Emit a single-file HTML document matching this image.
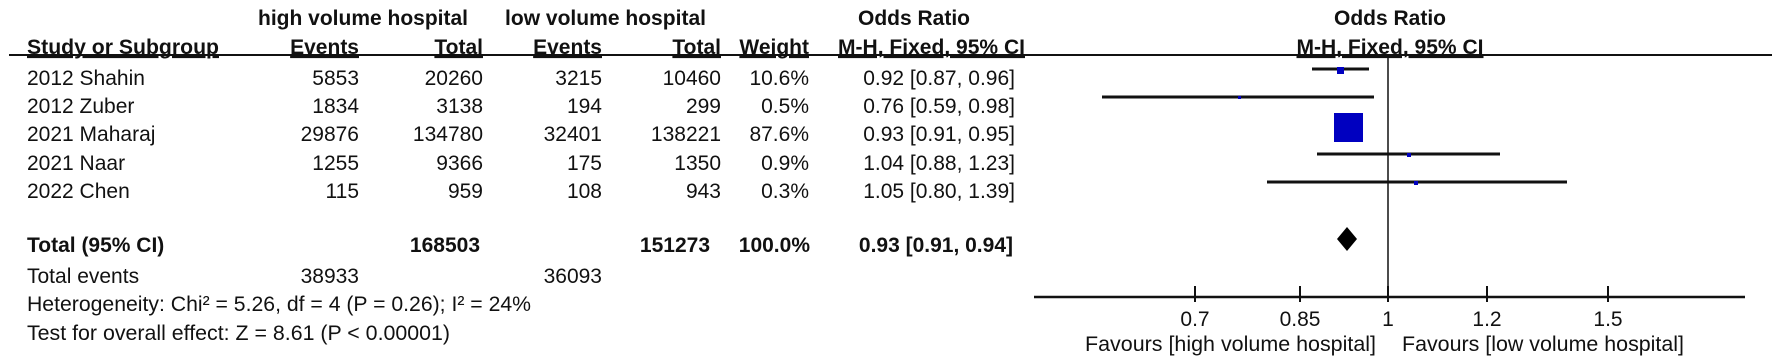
<!DOCTYPE html>
<html><head><meta charset="utf-8"><style>
html,body{margin:0;padding:0;background:#fff;}
svg{display:block;font-family:"Liberation Sans",Arial,sans-serif;}
.b{font-weight:bold;}
</style></head><body>
<svg width="1772" height="364" viewBox="0 0 1772 364" xmlns="http://www.w3.org/2000/svg" font-size="21" fill="#111">
<text class="b" x="258" y="25" textLength="210" lengthAdjust="spacingAndGlyphs">high volume hospital</text>
<text class="b" x="505" y="25" textLength="201" lengthAdjust="spacingAndGlyphs">low volume hospital</text>
<text class="b" x="914" y="25" text-anchor="middle">Odds Ratio</text>
<text class="b" x="1390" y="25" text-anchor="middle">Odds Ratio</text>
<g class="b" text-decoration="underline">
<text x="27" y="54" textLength="192" lengthAdjust="spacingAndGlyphs">Study or Subgroup</text>
<text x="359" y="54" text-anchor="end">Events</text>
<text x="483" y="54" text-anchor="end">Total</text>
<text x="602" y="54" text-anchor="end">Events</text>
<text x="721" y="54" text-anchor="end">Total</text>
<text x="809" y="54" text-anchor="end">Weight</text>
<text x="1025" y="54" text-anchor="end" textLength="187" lengthAdjust="spacingAndGlyphs">M-H, Fixed, 95% CI</text>
<text x="1390" y="54" text-anchor="middle" textLength="187" lengthAdjust="spacingAndGlyphs">M-H, Fixed, 95% CI</text>
</g>
<line x1="9" y1="55" x2="1772" y2="55" stroke="#111" stroke-width="2"/>
<g>
<text x="27" y="85">2012 Shahin</text><text x="359" y="85" text-anchor="end">5853</text><text x="483" y="85" text-anchor="end">20260</text><text x="602" y="85" text-anchor="end">3215</text><text x="721" y="85" text-anchor="end">10460</text><text x="809" y="85" text-anchor="end">10.6%</text><text x="1015" y="85" text-anchor="end">0.92 [0.87, 0.96]</text>
<text x="27" y="113">2012 Zuber</text><text x="359" y="113" text-anchor="end">1834</text><text x="483" y="113" text-anchor="end">3138</text><text x="602" y="113" text-anchor="end">194</text><text x="721" y="113" text-anchor="end">299</text><text x="809" y="113" text-anchor="end">0.5%</text><text x="1015" y="113" text-anchor="end">0.76 [0.59, 0.98]</text>
<text x="27" y="141">2021 Maharaj</text><text x="359" y="141" text-anchor="end">29876</text><text x="483" y="141" text-anchor="end">134780</text><text x="602" y="141" text-anchor="end">32401</text><text x="721" y="141" text-anchor="end">138221</text><text x="809" y="141" text-anchor="end">87.6%</text><text x="1015" y="141" text-anchor="end">0.93 [0.91, 0.95]</text>
<text x="27" y="170">2021 Naar</text><text x="359" y="170" text-anchor="end">1255</text><text x="483" y="170" text-anchor="end">9366</text><text x="602" y="170" text-anchor="end">175</text><text x="721" y="170" text-anchor="end">1350</text><text x="809" y="170" text-anchor="end">0.9%</text><text x="1015" y="170" text-anchor="end">1.04 [0.88, 1.23]</text>
<text x="27" y="198">2022 Chen</text><text x="359" y="198" text-anchor="end">115</text><text x="483" y="198" text-anchor="end">959</text><text x="602" y="198" text-anchor="end">108</text><text x="721" y="198" text-anchor="end">943</text><text x="809" y="198" text-anchor="end">0.3%</text><text x="1015" y="198" text-anchor="end">1.05 [0.80, 1.39]</text>
<g class="b">
<text x="27" y="252">Total (95% CI)</text><text x="480" y="252" text-anchor="end">168503</text><text x="710" y="252" text-anchor="end">151273</text><text x="810" y="252" text-anchor="end">100.0%</text><text x="1013" y="252" text-anchor="end">0.93 [0.91, 0.94]</text>
</g>
<text x="27" y="283">Total events</text><text x="359" y="283" text-anchor="end">38933</text><text x="602" y="283" text-anchor="end">36093</text>
<text x="27" y="311" textLength="504" lengthAdjust="spacingAndGlyphs">Heterogeneity: Chi² = 5.26, df = 4 (P = 0.26); I² = 24%</text>
<text x="27" y="340" textLength="423" lengthAdjust="spacingAndGlyphs">Test for overall effect: Z = 8.61 (P &lt; 0.00001)</text>
</g>
<line x1="1388" y1="55" x2="1388" y2="297" stroke="#111" stroke-width="1.5"/>
<line x1="1034" y1="297" x2="1745" y2="297" stroke="#111" stroke-width="2.5"/>
<g stroke="#111" stroke-width="2">
<line x1="1195" y1="286" x2="1195" y2="302"/><line x1="1300" y1="286" x2="1300" y2="302"/><line x1="1388" y1="286" x2="1388" y2="302"/><line x1="1487" y1="286" x2="1487" y2="302"/><line x1="1608" y1="286" x2="1608" y2="302"/>
</g>
<g text-anchor="middle">
<text x="1195" y="326">0.7</text><text x="1300" y="326">0.85</text><text x="1388" y="326">1</text><text x="1487" y="326">1.2</text><text x="1608" y="326">1.5</text>
</g>
<text x="1085" y="351" textLength="291" lengthAdjust="spacingAndGlyphs">Favours [high volume hospital]</text>
<text x="1402" y="351" textLength="282" lengthAdjust="spacingAndGlyphs">Favours [low volume hospital]</text>
<g stroke="#111" stroke-width="3">
<line x1="1312" y1="69" x2="1369" y2="69"/>
<line x1="1102" y1="97" x2="1374" y2="97"/>
<line x1="1337" y1="128" x2="1360" y2="128"/>
<line x1="1317" y1="154" x2="1500" y2="154"/>
<line x1="1267" y1="182" x2="1567" y2="182"/>
</g>
<g fill="#0000c0">
<rect x="1337" y="67" width="7" height="7"/>
<rect x="1238" y="96" width="3" height="3"/>
<rect x="1334" y="113" width="29" height="29"/>
<rect x="1407" y="153" width="4" height="4"/>
<rect x="1414" y="181" width="4" height="4"/>
</g>
<polygon points="1337,239 1347,227 1357,239 1347,251" fill="#000"/>
</svg>
</body></html>
